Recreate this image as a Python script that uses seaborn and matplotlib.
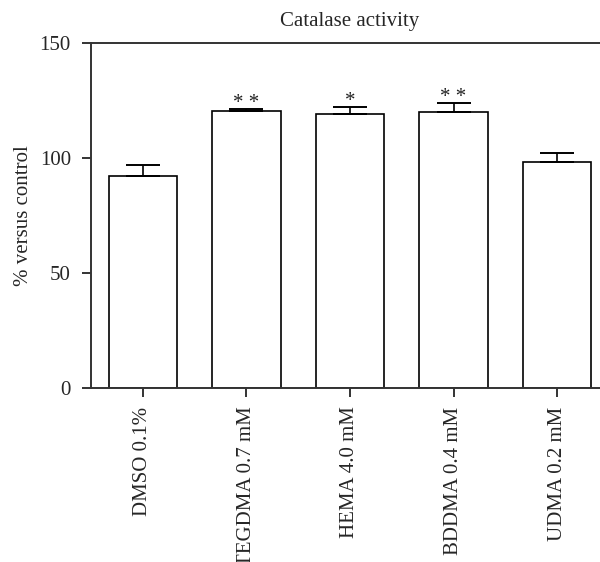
import matplotlib
matplotlib.use("Agg")
import matplotlib.pyplot as plt
import seaborn as sns
import pandas as pd

# Catalase activity relative to control
categories = ["DMSO 0.1%", "TEGDMA 0.7 mM", "HEMA 4.0 mM", "BDDMA 0.4 mM", "UDMA 0.2 mM"]
means = [92, 120.3, 119, 120, 98]
sem = [5, 1.0, 3, 4, 4]
significance = ["", "* *", "*", "* *", ""]
y_ticks = [0, 50, 100, 150]

sns.set_style("ticks")
plt.rcParams["font.family"] = ["Liberation Serif", "DejaVu Serif"]

df = pd.DataFrame({"treatment": categories, "value": means})

fig = plt.figure(figsize=(6.0, 5.62), dpi=100)
ax = fig.add_axes([91 / 600, 174.3 / 562, 518 / 600, 344.7 / 562])

sns.barplot(data=df, x="treatment", y="value", ax=ax, color="white",
            edgecolor="black", linewidth=1.2, width=0.66, errorbar=None)

# upper-only error bars
xs = list(range(len(categories)))
ax.errorbar(xs, means, yerr=[[0] * len(sem), sem], fmt="none", ecolor="black",
            elinewidth=1.2, capsize=12, capthick=1.4)

for x, m, e, s in zip(xs, means, sem, significance):
    if s:
        ax.text(x, m + e - 1.8, s, ha="center", va="bottom", fontsize=15, color="#222222")

ax.set_xlim(-0.5, len(categories) - 0.5)
ax.set_ylim(0, 150)
ax.set_yticks(y_ticks)
ax.set_yticklabels([str(t) for t in y_ticks], fontsize=15)
ax.set_xticks(xs)
ax.set_xticklabels(categories, rotation=90, fontsize=15)
ax.set_xlabel("")
ax.set_ylabel("% versus control", fontsize=15, labelpad=5)
ax.set_title("Catalase activity", fontsize=15, pad=12)

for side in ["left", "bottom", "top"]:
    ax.spines[side].set_linewidth(1.4)
    ax.spines[side].set_color("#333333")
ax.spines["right"].set_visible(False)
ax.tick_params(axis="both", length=6.5, width=1.4, color="#333333")
ax.tick_params(axis="y", pad=8)
ax.tick_params(axis="x", pad=7)

fig.savefig("out.png", dpi=100)
